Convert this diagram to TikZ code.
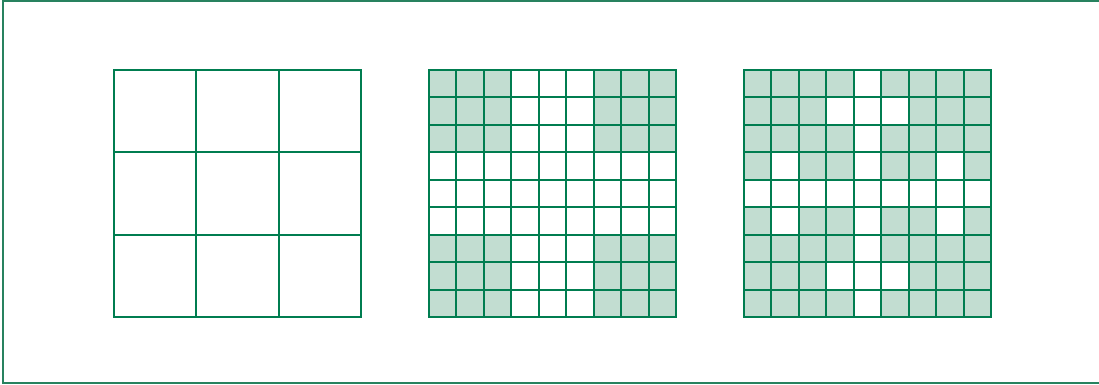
\documentclass[tikz,border=0pt]{standalone}
\usetikzlibrary{calc}
\definecolor{gline}{RGB}{0,125,80}
\definecolor{gfill}{RGB}{194,221,209}
\definecolor{fline}{RGB}{40,130,95}
\tikzset{gridline/.style={draw=gline,line width=2pt},
 cellfill/.style={fill=gfill},
 framebox/.style={draw=fline,line width=1.2pt}}
\begin{document}
\begin{tikzpicture}[x=1pt,y=-1pt]
\useasboundingbox (0,0) rectangle (1099,385);
\fill[white] (0,0) rectangle (1099,385);
\coordinate (ftr) at (1102,1);
\coordinate (ftl) at (3,1);
\coordinate (fbl) at (3,383);
\coordinate (fbr) at (1102,383);
\draw[framebox] (ftr) -- (ftl) -- (fbl) -- (fbr);
% grid 1
\coordinate (g1) at (114,70);
\draw[gridline] (g1) rectangle ++(247,247);
\foreach \i in {1,2} {
  \draw[gridline] ($(g1)+(\i*82.333,0)$) -- ++(0,247);
  \draw[gridline] ($(g1)+(0,\i*82.333)$) -- ++(247,0);
}
% grid 2
\coordinate (g2) at (429,70);
\foreach \r in {0,...,8} {\foreach \c in {0,...,8} {
  \pgfmathtruncatemacro{\rr}{(\r<3 || \r>5) && (\c<3 || \c>5)}
  \ifnum\rr=1 \fill[cellfill] ($(g2)+(\c*27.444,\r*27.444)$) rectangle ++(27.444,27.444);\fi
}}
\draw[gridline] (g2) rectangle ++(247,247);
\foreach \i in {1,...,8} {
  \draw[gridline] ($(g2)+(\i*27.444,0)$) -- ++(0,247);
  \draw[gridline] ($(g2)+(0,\i*27.444)$) -- ++(247,0);
}
% grid 3
\coordinate (g3) at (744,70);
\foreach \r in {0,...,8} {\foreach \c in {0,...,8} {
  \pgfmathtruncatemacro{\ww}{\c==4 || \r==4 || ((\r==1 || \r==7) && \c>2 && \c<6) || ((\r==3 || \r==5) && (\c==1 || \c==7))}
  \ifnum\ww=0 \fill[cellfill] ($(g3)+(\c*27.444,\r*27.444)$) rectangle ++(27.444,27.444);\fi
}}
\draw[gridline] (g3) rectangle ++(247,247);
\foreach \i in {1,...,8} {
  \draw[gridline] ($(g3)+(\i*27.444,0)$) -- ++(0,247);
  \draw[gridline] ($(g3)+(0,\i*27.444)$) -- ++(247,0);
}
\end{tikzpicture}
\end{document}
